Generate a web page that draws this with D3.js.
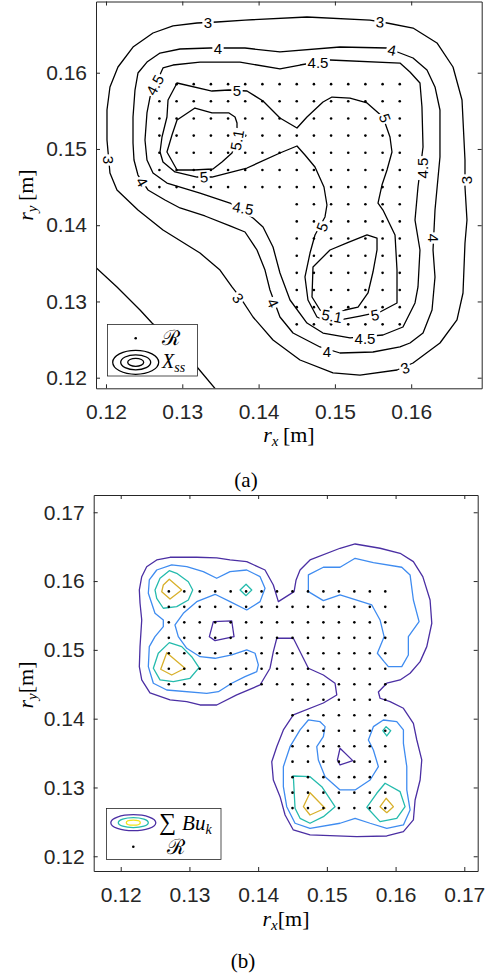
<!DOCTYPE html>
<html>
<head>
<meta charset="utf-8">
<script src="https://d3js.org/d3.v7.min.js"></script>
<style>
  body { margin: 0; background: #fff; }
  .tick text { font-family: "Liberation Sans", Arial, sans-serif; fill: #262626; }
  .serif { font-family: "Liberation Serif", "DejaVu Serif", serif; fill: #000; }
</style>
</head>
<body>
<svg id="chart" width="487" height="977"></svg>
<script>
// ---------------- data ----------------
// sample set R : grid columns / rows and which columns each row holds
const rxLevels = [0.127, 0.12925, 0.1315, 0.13375, 0.136, 0.13825, 0.1405, 0.14275, 0.145, 0.14725, 0.1495, 0.15175, 0.154, 0.15625, 0.1585];
const ryLevels = [0.1585, 0.15625, 0.154, 0.15175, 0.1495, 0.14725, 0.145, 0.14275, 0.1405, 0.13825, 0.136, 0.13375, 0.1315, 0.12925, 0.127];
const regionRows = [[0, 14], [0, 14], [0, 14], [0, 14], [0, 14], [0, 14], [0, 14],
                    [8, 14], [8, 14], [8, 14], [8, 14], [8, 14], [8, 14], [8, 14], [8, 14]];

const ticksA = [0.12, 0.13, 0.14, 0.15, 0.16];
const ticksB = [0.12, 0.13, 0.14, 0.15, 0.16, 0.17];

// (a) contour lines of X_ss, level -> vertices [rx, ry]
const contA3 = [[0.12878,0.16613],[0.13193,0.16652],[0.13455,0.16665],[0.13822,0.16691],[0.14634,0.16731],[0.15460,0.16691],[0.15683,0.16652],[0.16024,0.16586],[0.16338,0.16390],[0.16548,0.16075],[0.16666,0.15642],[0.16705,0.14855],[0.16705,0.14501],[0.16731,0.14068],[0.16705,0.13767],[0.16679,0.13111],[0.16600,0.12757],[0.16377,0.12455],[0.16024,0.12193],[0.15814,0.12101],[0.15329,0.12035],[0.14975,0.12062],[0.14543,0.12232],[0.14189,0.12494],[0.13927,0.12796],[0.13756,0.13058],[0.13651,0.13190],[0.13494,0.13412],[0.13232,0.13635],[0.12747,0.13937],[0.12419,0.14199],[0.12144,0.14462],[0.12052,0.14685],[0.12013,0.15117],[0.12013,0.15511],[0.12052,0.15813],[0.12157,0.16075],[0.12354,0.16337],[0.12616,0.16521]];
const contA4 = [[0.12354,0.15078],[0.12354,0.15419],[0.12380,0.15773],[0.12419,0.15996],[0.12537,0.16140],[0.12708,0.16258],[0.12970,0.16311],[0.13363,0.16324],[0.13822,0.16324],[0.14280,0.16272],[0.15067,0.16337],[0.15683,0.16324],[0.16024,0.16193],[0.16207,0.16036],[0.16312,0.15813],[0.16377,0.15511],[0.16377,0.14894],[0.16312,0.14199],[0.16286,0.13675],[0.16312,0.13321],[0.16273,0.12888],[0.16155,0.12586],[0.15984,0.12455],[0.15853,0.12403],[0.15499,0.12337],[0.15067,0.12324],[0.14805,0.12403],[0.14451,0.12586],[0.14280,0.12796],[0.14149,0.13150],[0.14084,0.13412],[0.13979,0.13675],[0.13822,0.13911],[0.13625,0.13990],[0.13297,0.14121],[0.12970,0.14226],[0.12773,0.14331],[0.12550,0.14462],[0.12419,0.14658],[0.12367,0.14855]];
const contA45 = [[0.12747,0.16062],[0.12878,0.16101],[0.13232,0.16140],[0.13756,0.16140],[0.14280,0.16049],[0.14543,0.16101],[0.14936,0.16167],[0.15853,0.16127],[0.15984,0.16009],[0.16115,0.15865],[0.16141,0.15550],[0.16155,0.15026],[0.16089,0.14501],[0.16050,0.14068],[0.16115,0.13675],[0.16089,0.13190],[0.16050,0.12980],[0.15892,0.12665],[0.15630,0.12560],[0.15198,0.12521],[0.14844,0.12586],[0.14634,0.12717],[0.14412,0.13019],[0.14280,0.13373],[0.14189,0.13714],[0.14058,0.13976],[0.13927,0.14094],[0.13625,0.14291],[0.13232,0.14422],[0.12799,0.14553],[0.12616,0.14685],[0.12537,0.14855],[0.12511,0.15117],[0.12537,0.15472],[0.12577,0.15681]];
const contA5 = [[0.12931,0.15865],[0.13389,0.15760],[0.13612,0.15773],[0.13848,0.15760],[0.14058,0.15629],[0.14280,0.15406],[0.14503,0.15275],[0.14634,0.15419],[0.14844,0.15616],[0.14962,0.15681],[0.15198,0.15668],[0.15421,0.15603],[0.15630,0.15419],[0.15722,0.15157],[0.15748,0.14960],[0.15683,0.14724],[0.15617,0.14527],[0.15565,0.14291],[0.15630,0.14199],[0.15788,0.13872],[0.15814,0.13412],[0.15814,0.12980],[0.15591,0.12862],[0.15329,0.12809],[0.15067,0.12757],[0.14936,0.12717],[0.14765,0.12796],[0.14647,0.13019],[0.14608,0.13321],[0.14674,0.13635],[0.14739,0.13872],[0.14870,0.14108],[0.14896,0.14265],[0.14857,0.14501],[0.14739,0.14763],[0.14608,0.14921],[0.14503,0.15039],[0.14280,0.14947],[0.13848,0.14750],[0.13389,0.14632],[0.13193,0.14632],[0.12904,0.14698],[0.12747,0.14829],[0.12708,0.14960],[0.12734,0.15157],[0.12799,0.15419],[0.12813,0.15642]];
const contA51a = [[0.12931,0.15380],[0.13166,0.15537],[0.13389,0.15472],[0.13612,0.15472],[0.13691,0.15419],[0.13717,0.15340],[0.13717,0.15117],[0.13651,0.14947],[0.13520,0.14829],[0.13402,0.14737],[0.13153,0.14724],[0.12931,0.14724],[0.12799,0.14960],[0.12865,0.15183]];
const contA51b = [[0.15421,0.13872],[0.15552,0.13832],[0.15552,0.13675],[0.15499,0.13386],[0.15434,0.13111],[0.15303,0.12927],[0.15132,0.12888],[0.14962,0.12809],[0.14805,0.12888],[0.14700,0.13058],[0.14713,0.13452],[0.14936,0.13675],[0.15159,0.13767]];
const contA2 = [[0.11817,0.13491],[0.12144,0.13190],[0.12446,0.12888],[0.12603,0.12717],[0.12878,0.12455],[0.13193,0.12140],[0.13468,0.11812]];

// (a) inline contour labels: [text, rx, ry, angle]
const labelsA = [
  ['3',0.13337,0.16652,0],['3',0.15591,0.16665,3],['3',0.12026,0.14855,90],['3',0.16731,0.14593,-90],['3',0.13730,0.13045,55],['3',0.15919,0.12127,-20],
  ['4',0.13468,0.16311,0],['4',0.15748,0.16298,12],['4',0.12472,0.14567,60],['4',0.16286,0.13832,90],['4',0.14189,0.12980,65],['4',0.14896,0.12337,0],
  ['4.5',0.14778,0.16127,0],['4.5',0.12642,0.15839,-62],['4.5',0.13796,0.14226,10],['4.5',0.16155,0.14750,-90],['4.5',0.15394,0.12508,0],
  ['5',0.13717,0.15760,0],['5',0.13284,0.14632,-5],['5',0.15657,0.15406,70],['5',0.14831,0.13976,-70],['5',0.15526,0.12822,-10],
  ['5.1',0.13717,0.15117,-80],['5.1',0.14962,0.12809,10]
];

// (b) contour lines of sum B u_k, four levels (low -> high)
const contB1outer = [[0.12718,0.16346],[0.12524,0.16307],[0.12378,0.16209],[0.12306,0.16064],[0.12271,0.15871],[0.12281,0.15682],[0.12306,0.15435],[0.12281,0.15047],[0.12271,0.14756],[0.12306,0.14563],[0.12426,0.14374],[0.12718,0.14272],[0.12961,0.14247],[0.13154,0.14199],[0.13397,0.14199],[0.13688,0.14345],[0.14028,0.14490],[0.14173,0.14733],[0.14221,0.14974],[0.14271,0.15169],[0.14512,0.15169],[0.14731,0.14733],[0.14949,0.14635],[0.15119,0.14515],[0.15144,0.14345],[0.14949,0.14228],[0.14512,0.14054],[0.14367,0.13836],[0.14271,0.13593],[0.14198,0.13375],[0.14221,0.13109],[0.14319,0.12866],[0.14392,0.12600],[0.14512,0.12382],[0.14755,0.12310],[0.15435,0.12285],[0.15872,0.12295],[0.16114,0.12358],[0.16259,0.12528],[0.16284,0.12818],[0.16357,0.13109],[0.16381,0.13400],[0.16309,0.13690],[0.16259,0.13933],[0.16114,0.14151],[0.15920,0.14247],[0.15774,0.14297],[0.15750,0.14388],[0.15872,0.14515],[0.16066,0.14563],[0.16211,0.14660],[0.16357,0.14829],[0.16454,0.15047],[0.16527,0.15387],[0.16502,0.15725],[0.16396,0.16064],[0.16259,0.16282],[0.16066,0.16404],[0.15774,0.16477],[0.15411,0.16539],[0.15192,0.16477],[0.14755,0.16307],[0.14610,0.16161],[0.14552,0.16016],[0.14523,0.15846],[0.14294,0.15701],[0.14221,0.15943],[0.14100,0.16161],[0.13834,0.16282],[0.13591,0.16307],[0.13397,0.16336],[0.13106,0.16346]];
const contB1square = [[0.13348,0.15410],[0.13616,0.15420],[0.13649,0.15192],[0.13373,0.15134],[0.13290,0.15192]];
const contB1tri = [[0.15192,0.13570],[0.15377,0.13390],[0.15192,0.13327],[0.15153,0.13399]];
const contB2left = [[0.12742,0.16234],[0.12524,0.16161],[0.12416,0.16016],[0.12402,0.15823],[0.12499,0.15532],[0.12620,0.15435],[0.12620,0.15337],[0.12499,0.15192],[0.12416,0.15047],[0.12402,0.14756],[0.12475,0.14515],[0.12670,0.14417],[0.13252,0.14369],[0.13421,0.14392],[0.13616,0.14515],[0.13809,0.14610],[0.13980,0.14683],[0.14003,0.14781],[0.13955,0.14951],[0.13834,0.14999],[0.13616,0.14926],[0.13373,0.14878],[0.13154,0.14901],[0.12961,0.15023],[0.12838,0.15192],[0.12790,0.15362],[0.12911,0.15532],[0.13106,0.15701],[0.13373,0.15808],[0.13591,0.15701],[0.13834,0.15580],[0.14028,0.15701],[0.14100,0.15895],[0.14028,0.16064],[0.13834,0.16161],[0.13591,0.16137],[0.13397,0.16041],[0.13202,0.16137],[0.12961,0.16209]];
const contB2topRight = [[0.14731,0.16089],[0.14949,0.16201],[0.15192,0.16201],[0.15411,0.16331],[0.15677,0.16267],[0.16090,0.16201],[0.16211,0.16089],[0.16259,0.15725],[0.16342,0.15410],[0.16186,0.15192],[0.16186,0.14926],[0.16090,0.14756],[0.15895,0.14756],[0.15833,0.14829],[0.15735,0.14951],[0.15833,0.15192],[0.15774,0.15435],[0.15654,0.15653],[0.15192,0.15798],[0.14949,0.15715],[0.14731,0.15846]];
const contB2lowRight = [[0.14731,0.13981],[0.14610,0.13836],[0.14464,0.13593],[0.14367,0.13302],[0.14367,0.13012],[0.14416,0.12721],[0.14537,0.12480],[0.14755,0.12407],[0.15192,0.12480],[0.15411,0.12552],[0.15629,0.12480],[0.15872,0.12407],[0.16114,0.12455],[0.16211,0.12673],[0.16163,0.12964],[0.16163,0.13302],[0.16114,0.13642],[0.16114,0.13836],[0.16017,0.13956],[0.15822,0.13981],[0.15677,0.13884],[0.15604,0.13690],[0.15677,0.13545],[0.15750,0.13302],[0.15629,0.13109],[0.15411,0.12964],[0.15192,0.12964],[0.14974,0.13157],[0.14876,0.13400],[0.14853,0.13593],[0.14949,0.13738],[0.14974,0.13884],[0.14901,0.13956]];
const contB3leftUp = [[0.12707,0.16151],[0.12815,0.16113],[0.12984,0.15991],[0.13048,0.15871],[0.12984,0.15725],[0.12815,0.15628],[0.12620,0.15605],[0.12524,0.15750],[0.12499,0.15871],[0.12572,0.16041]];
const contB3leftLow = [[0.12707,0.15105],[0.12888,0.15047],[0.13033,0.14901],[0.13140,0.14741],[0.13009,0.14587],[0.12766,0.14538],[0.12572,0.14563],[0.12475,0.14733],[0.12547,0.14951]];
const contB3topMid = [[0.13824,0.15954],[0.13907,0.15871],[0.13824,0.15788],[0.13737,0.15871]];
const contB3lowA = [[0.14512,0.13167],[0.14755,0.13157],[0.14926,0.13012],[0.15119,0.12721],[0.14949,0.12576],[0.14755,0.12480],[0.14610,0.12552],[0.14537,0.12698]];
const contB3lowB = [[0.15847,0.13061],[0.16066,0.12939],[0.16138,0.12721],[0.16017,0.12552],[0.15774,0.12503],[0.15581,0.12712],[0.15726,0.12916]];
const contB3small = [[0.15862,0.13884],[0.15930,0.13826],[0.15872,0.13749],[0.15814,0.13826]];
const contB4leftUp = [[0.12707,0.16026],[0.12888,0.15871],[0.12718,0.15740],[0.12597,0.15846],[0.12620,0.15943]];
const contB4leftLow = [[0.12670,0.14959],[0.12936,0.14733],[0.12742,0.14635],[0.12582,0.14718]];
const contB4lowA = [[0.14755,0.12924],[0.14974,0.12698],[0.14755,0.12600],[0.14658,0.12721]];
const contB4lowB = [[0.15862,0.12843],[0.15968,0.12721],[0.15872,0.12634],[0.15774,0.12721]];

// ---------------- drawing ----------------
const parula = ['#4b2fa3', '#3f8cf0', '#25bbad', '#d8b02b'];
const svg = d3.select('#chart');
const fmt = d3.format('.2f');

const regionPoints = regionRows.flatMap((span, r) =>
  d3.range(span[0], span[1] + 1).map(c => [rxLevels[c], ryLevels[r]]));

function drawPanel(p) {
  const x = d3.scaleLinear().domain(p.xDomain).range([p.left, p.right]);
  const y = d3.scaleLinear().domain(p.yDomain).range([p.bottom, p.top]);
  const g = svg.append('g');
  g.append('clipPath').attr('id', 'clip-' + p.id)
    .append('rect').attr('x', p.left).attr('y', p.top)
    .attr('width', p.right - p.left).attr('height', p.bottom - p.top);
  const plot = g.append('g').attr('clip-path', `url(#clip-${p.id})`);
  const line = d3.line().x(d => x(d[0])).y(d => y(d[1]));

  plot.selectAll('path.cl').data(p.contours).join('path')
    .attr('class', 'cl')
    .attr('d', d => line(d.pts) + (d.closed ? 'Z' : ''))
    .attr('fill', 'none').attr('stroke', d => d.color)
    .attr('stroke-width', 1.3).attr('stroke-linejoin', 'round');

  plot.selectAll('circle.pt').data(regionPoints).join('circle')
    .attr('class', 'pt')
    .attr('cx', d => x(d[0])).attr('cy', d => y(d[1]))
    .attr('r', 1.3).attr('fill', '#000');

  // inline labels: white box breaks the line underneath, like clabel
  const lab = plot.selectAll('g.cl').data(p.labels || []).join('g')
    .attr('class', 'cl')
    .attr('transform', d => `translate(${x(d[1])},${y(d[2])}) rotate(${d[3]})`);
  lab.append('text')
    .attr('text-anchor', 'middle').attr('dy', '0.36em')
    .style('font-family', '"Liberation Sans", Arial, sans-serif').style('font-size', '15px')
    .attr('fill', '#000')
    .text(d => d[0])
    .each(function () {
      const b = this.getBBox();
      d3.select(this.parentNode).insert('rect', 'text')
        .attr('x', b.x - 1.5).attr('y', b.y + 2).attr('width', b.width + 3).attr('height', b.height - 3)
        .attr('fill', '#fff');
    });

  const axes = [
    [d3.axisBottom(x).tickValues(p.xTicks).tickFormat(fmt).tickPadding(16), `translate(0,${p.bottom})`],
    [d3.axisTop(x).tickValues(p.xTicks).tickFormat(''), `translate(0,${p.top})`],
    [d3.axisLeft(y).tickValues(p.yTicks).tickFormat(fmt).tickPadding(9), `translate(${p.left},0)`],
    [d3.axisRight(y).tickValues(p.yTicks).tickFormat(''), `translate(${p.right},0)`]
  ];
  axes.forEach(([ax, tr]) => {
    const a = g.append('g').attr('transform', tr)
      .call(ax.tickSizeInner(-4).tickSizeOuter(0));
    a.select('.domain').attr('stroke', '#262626').attr('stroke-width', 1);
    a.selectAll('.tick line').attr('stroke', '#262626');
    a.selectAll('.tick text').style('font-size', '21px');
  });
  return g;
}

// ---- panel (a)
const colA = '#000';
const gA = drawPanel({
  id: 'a', left: 96, right: 481.7, top: 1.5, bottom: 388.3,
  xDomain: [0.11869, 0.16924], yDomain: [0.11861, 0.16934],
  xTicks: ticksA, yTicks: ticksA,
  contours: [
    { pts: contA2, color: colA, closed: false },
    { pts: contA3, color: colA, closed: true },
    { pts: contA4, color: colA, closed: true },
    { pts: contA45, color: colA, closed: true },
    { pts: contA5, color: colA, closed: true },
    { pts: contA51a, color: colA, closed: true },
    { pts: contA51b, color: colA, closed: true }
  ],
  labels: labelsA
});

// ---- panel (b)
const gB = drawPanel({
  id: 'b', left: 93.7, right: 477.7, top: 495, bottom: 871,
  xDomain: [0.11607, 0.17195], yDomain: [0.11786, 0.17251],
  xTicks: ticksB, yTicks: ticksB,
  contours: [
    { pts: contB1outer, color: parula[0], closed: true },
    { pts: contB1square, color: parula[0], closed: true },
    { pts: contB1tri, color: parula[0], closed: true },
    { pts: contB2left, color: parula[1], closed: true },
    { pts: contB2topRight, color: parula[1], closed: true },
    { pts: contB2lowRight, color: parula[1], closed: true },
    { pts: contB3leftUp, color: parula[2], closed: true },
    { pts: contB3leftLow, color: parula[2], closed: true },
    { pts: contB3topMid, color: parula[2], closed: true },
    { pts: contB3lowA, color: parula[2], closed: true },
    { pts: contB3lowB, color: parula[2], closed: true },
    { pts: contB3small, color: parula[2], closed: true },
    { pts: contB4leftUp, color: parula[3], closed: true },
    { pts: contB4leftLow, color: parula[3], closed: true },
    { pts: contB4lowA, color: parula[3], closed: true },
    { pts: contB4lowB, color: parula[3], closed: true }
  ]
});

// ---- axis titles
function axisTitle(g, xPos, yPos, sub, gap, rotate) {
  const t = g.append('text').attr('class', 'serif')
    .attr('transform', `translate(${xPos},${yPos})` + (rotate ? ' rotate(-90)' : ''))
    .attr('text-anchor', 'middle').style('font-size', '22px');
  t.append('tspan').attr('font-style', 'italic').text('r');
  t.append('tspan').attr('font-style', 'italic').style('font-size', '15px').attr('dy', 4).text(sub);
  t.append('tspan').attr('dy', -4).text((gap ? '\u2009' : '') + '[m]');
}
axisTitle(gA, 289, 442, 'x', true, false);
axisTitle(gA, 33, 195, 'y', true, true);
axisTitle(gB, 286, 926, 'x', false, false);
axisTitle(gB, 33, 685, 'y', false, true);

svg.append('text').attr('class', 'serif').attr('x', 246).attr('y', 487)
  .attr('text-anchor', 'middle').style('font-size', '21px').text('(a)');
svg.append('text').attr('class', 'serif').attr('x', 243).attr('y', 968)
  .attr('text-anchor', 'middle').style('font-size', '21px').text('(b)');

// ---- legend (a)
const legA = gA.append('g');
legA.append('rect').attr('x', 107.5).attr('y', 324.5).attr('width', 90).attr('height', 51.5)
  .attr('fill', '#fff').attr('stroke', '#262626').attr('stroke-width', 0.8);
legA.append('circle').attr('cx', 135.7).attr('cy', 338.3).attr('r', 1.3).attr('fill', '#000');
legA.append('text').attr('x', 162).attr('y', 345).style('font-family', '"DejaVu Serif", serif')
  .style('font-size', '21px').text('\u211B');
[[23, 12], [15, 7.5], [8, 4]].forEach(([rx, ry]) =>
  legA.append('ellipse').attr('cx', 135.7).attr('cy', 362.3).attr('rx', rx).attr('ry', ry)
    .attr('fill', 'none').attr('stroke', '#000').attr('stroke-width', 1.3));
const xss = legA.append('text').attr('class', 'serif').attr('x', 162).attr('y', 368).style('font-size', '20px');
xss.append('tspan').attr('font-style', 'italic').text('X');
xss.append('tspan').attr('font-style', 'italic').attr('dy', 4).style('font-size', '14px').text('ss');

// ---- legend (b)
const legB = gB.append('g');
legB.append('rect').attr('x', 106.5).attr('y', 808.5).attr('width', 114.5).attr('height', 51)
  .attr('fill', '#fff').attr('stroke', '#262626').attr('stroke-width', 0.8);
[[22.5, 8, parula[0]], [15, 5, parula[2]], [7, 2.5, '#f2e31a']].forEach(([rx, ry, c]) =>
  legB.append('ellipse').attr('cx', 133.3).attr('cy', 822.7).attr('rx', rx).attr('ry', ry)
    .attr('fill', 'none').attr('stroke', c).attr('stroke-width', 1.3));
const sb = legB.append('text').attr('class', 'serif').attr('x', 159).attr('y', 830).style('font-size', '21px');
sb.append('tspan').style('font-size', '24px').text('\u2211');
sb.append('tspan').attr('font-style', 'italic').attr('dx', 6).text('Bu');
sb.append('tspan').attr('font-style', 'italic').attr('dy', 4).style('font-size', '14px').text('k');
legB.append('circle').attr('cx', 133.3).attr('cy', 846.7).attr('r', 1.3).attr('fill', '#000');
legB.append('text').attr('x', 167).attr('y', 854).style('font-family', '"DejaVu Serif", serif')
  .style('font-size', '21px').text('\u211B');
</script>
</body>
</html>
